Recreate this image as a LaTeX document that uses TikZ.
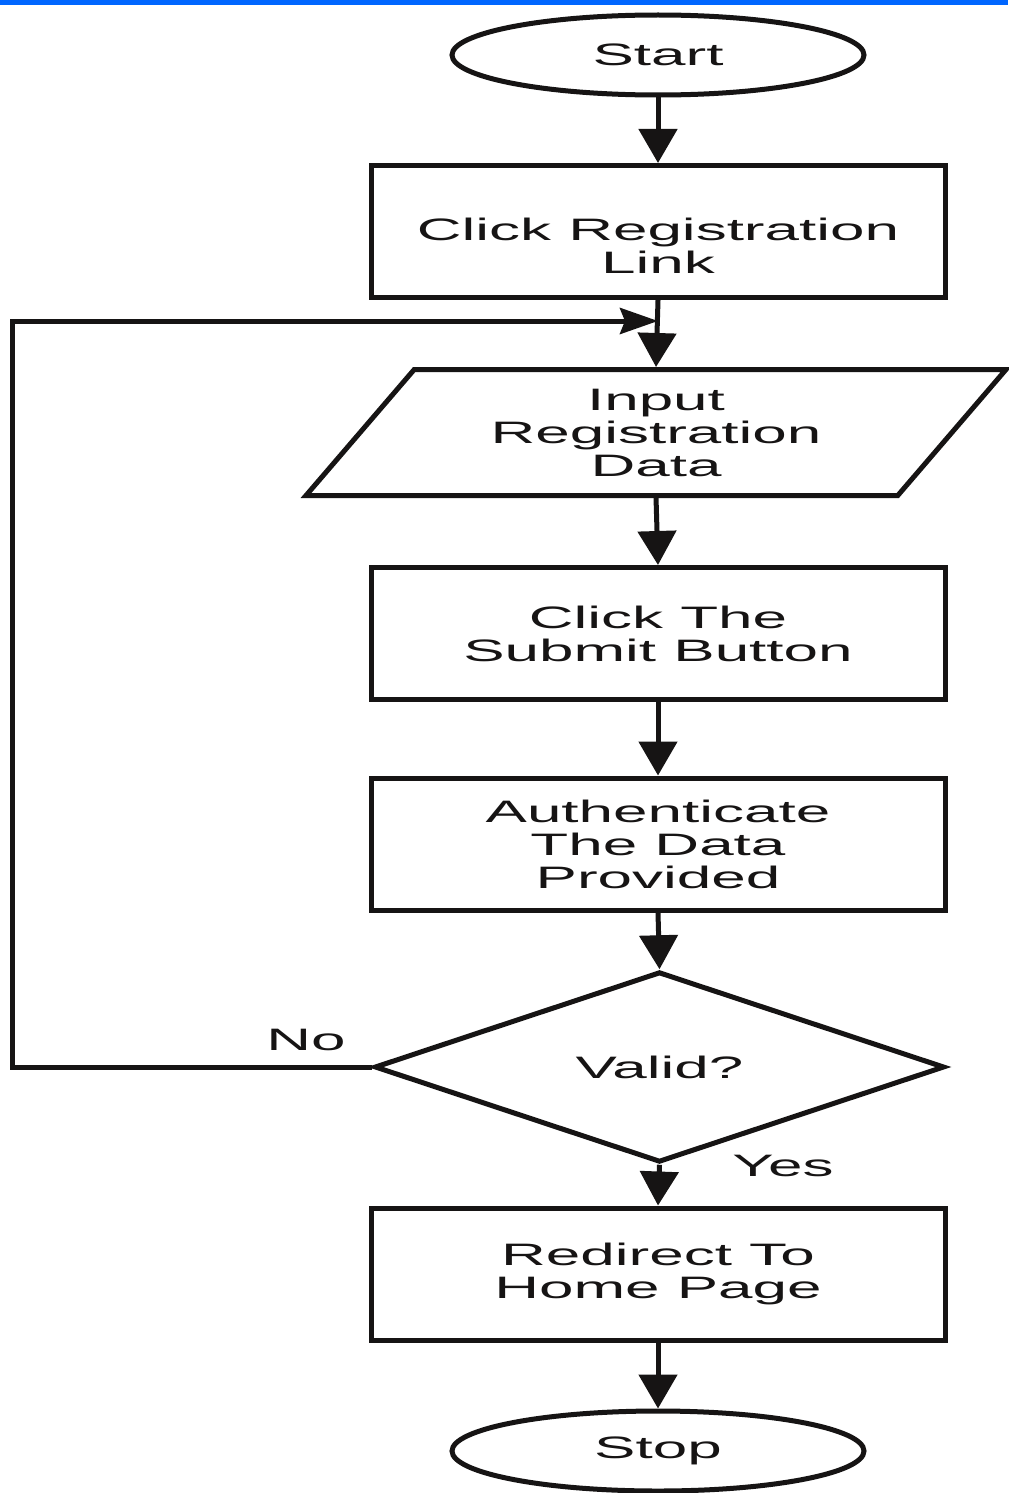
\documentclass[tikz,border=0pt]{standalone}
\usepackage{fontspec}
\setmainfont{Liberation Sans}[FakeStretch=2.0]
\usetikzlibrary{arrows.meta,shapes.geometric}
\definecolor{barblue}{RGB}{0,102,255}
\definecolor{ink}{RGB}{22,20,20}
\begin{document}
\begin{tikzpicture}[x=0.5pt,y=-0.5pt,
  every node/.style={font=\fontsize{15.5pt}{16.5pt}\selectfont, text=ink, align=center},
  flow/.style={draw=ink, line width=2.5pt, fill=white, inner sep=0pt},
  procbox/.style={flow, rectangle, minimum width=287pt, minimum height=66pt},
  terminal/.style={flow, ellipse, minimum width=206pt, minimum height=40pt},
  iobox/.style={flow, trapezium, trapezium left angle=39, trapezium right angle=141,
    trapezium stretches body, minimum width=350pt, minimum height=63pt},
  decision/.style={flow, diamond, minimum width=285pt, minimum height=92.5pt},
  link/.style={draw=ink, line width=2.5pt, -{Triangle[length=17pt,width=19pt]}},
  backlink/.style={draw=ink, line width=2.5pt, -{Stealth[length=19pt,width=13pt,inset=2.5pt]}},
  tag/.style={inner sep=0pt}
]
\useasboundingbox (0,0) rectangle (1008,1493);
\fill[white] (0,0) rectangle (1008,1493);
\fill[barblue] (0,0) rectangle (1008,5);

% flowchart blocks
\node[terminal] (start) at (658,55) {Start};
\node[procbox] (link) at (658,231.5) {\rule{0pt}{25pt}Click Registration\\Link};
\node[iobox] (input) at (656,432.5) {Input\\Registration\\Data};
\node[procbox] (submit) at (658,633.5) {Click The\\Submit Button};
\node[procbox] (auth) at (658,844) {Authenticate\\The Data\\Provided};
\node[decision] (valid) at (659.5,1067) {Valid?};
\node[procbox] (home) at (658,1274) {Redirect To\\Home Page};
\node[terminal] (stop) at (658,1451) {Stop};

\node[tag] (no) at (306,1040) {No};
\node[tag] (yes) at (783,1166) {Yes};

\coordinate (join) at (658,321);

% connectors
\draw[link] (start.south) -- (link.north);
\draw[link] (link.south) -- (input.north);
\draw[link] (input.south) -- (submit.north);
\draw[link] (submit.south) -- (auth.north);
\draw[link] (auth.south) -- (valid.north);
\draw[link] (valid.south) -- (home.north);
\draw[link] (home.south) -- (stop.north);
\draw[backlink] (valid.west) -- ++(-360,0) |- (join);
\end{tikzpicture}
\end{document}
